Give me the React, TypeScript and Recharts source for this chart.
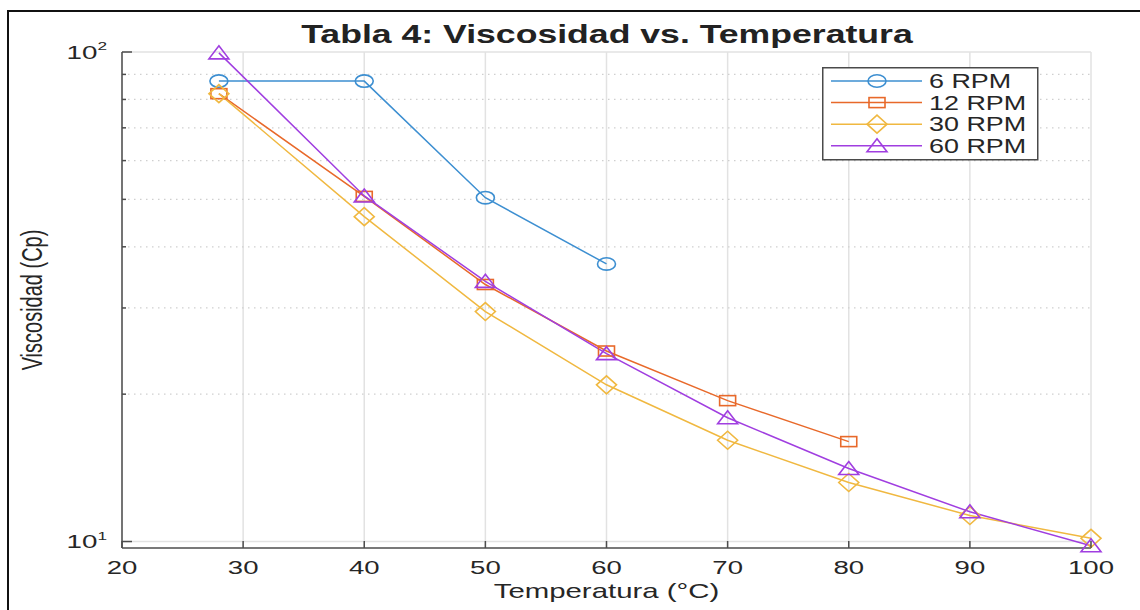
import React from 'react';
import {
  LineChart,
  Line,
  XAxis,
  YAxis,
  CartesianGrid,
  ReferenceLine,
  Legend,
} from 'recharts';

// Temperatures (°C) at which viscosity was measured
const temperatures = [28, 40, 50, 60, 70, 80, 90, 100];

// Viscosity (cP) for each spindle speed; null = not measured
const rpm6 = [87.2, 87.2, 50.4, 36.9, null, null, null, null];
const rpm12 = [82.2, 50.7, 33.5, 24.5, 19.4, 16.0, null, null];
const rpm30 = [82.2, 46.1, 29.5, 20.9, 16.1, 13.2, 11.3, 10.15];
const rpm60 = [99.6, 50.8, 34.0, 24.2, 17.9, 14.1, 11.5, 9.8];

const seriesNames = ['6 RPM', '12 RPM', '30 RPM', '60 RPM'];
const seriesKeys = ['rpm6', 'rpm12', 'rpm30', 'rpm60'];
const seriesColors = ['#3d8fd1', '#e8692a', '#f0b840', '#a03ee0'];
const seriesMarkers = ['circle', 'square', 'diamond', 'triangle'];

const xTicks = [20, 30, 40, 50, 60, 70, 80, 90, 100];
const yMajor = [10, 100];
const yMinor = [20, 30, 40, 50, 60, 70, 80, 90];
const yTicks = [10, 20, 30, 40, 50, 60, 70, 80, 90, 100];

const data = temperatures.map((t, i) => ({
  t,
  rpm6: rpm6[i],
  rpm12: rpm12[i],
  rpm30: rpm30[i],
  rpm60: rpm60[i],
}));

const FONT = "'Liberation Sans', Arial, Helvetica, sans-serif";
const TEXT = '#262626';
const STRETCH = 1.45;

function Marker({ kind, cx, cy, color }: { kind: string; cx: number; cy: number; color: string }) {
  const common = { fill: 'none', stroke: color, strokeWidth: 1.6 };
  switch (kind) {
    case 'circle':
      return <ellipse cx={cx} cy={cy} rx={9} ry={6.2} {...common} />;
    case 'square':
      return <rect x={cx - 8} y={cy - 5} width={16} height={10} {...common} />;
    case 'diamond':
      return (
        <polygon
          points={`${cx},${cy - 9} ${cx + 10},${cy} ${cx},${cy + 9} ${cx - 10},${cy}`}
          {...common}
        />
      );
    default:
      return (
        <polygon
          points={`${cx},${cy - 7} ${cx + 10},${cy + 6} ${cx - 10},${cy + 6}`}
          {...common}
        />
      );
  }
}

const makeDot = (i: number) => (p: any) => {
  const key = `${seriesKeys[i]}-${p.index}`;
  if (p.cx == null || p.cy == null || p.value == null) return <g key={key} />;
  return (
    <g key={key}>
      <Marker kind={seriesMarkers[i]} cx={p.cx} cy={p.cy} color={seriesColors[i]} />
    </g>
  );
};

const YTick = (props: any) => {
  const { x, y, payload } = props;
  const v = payload.value;
  const major = yMajor.includes(v);
  return (
    <g>
      <line x1={x} x2={x + (major ? 10 : 4)} y1={y} y2={y} stroke="#4d4d4d" strokeWidth={1.5} />
      {major && (
        <g transform={`translate(${x - 15}, ${y + 6.5}) scale(${STRETCH + 0.05}, 1)`}>
          <text textAnchor="end" fontFamily={FONT} fontSize={18.5} fill={TEXT}>
            10
            <tspan fontSize={11.5} dy={-8.5}>
              {Math.round(Math.log10(v))}
            </tspan>
          </text>
        </g>
      )}
    </g>
  );
};

const XTick = (props: any) => {
  const { x, y, payload } = props;
  return (
    <g>
      <line x1={x} x2={x} y1={y} y2={y - 7} stroke="#4d4d4d" strokeWidth={1.5} />
      <g transform={`translate(${x}, ${y + 26.3}) scale(${STRETCH}, 1)`}>
        <text textAnchor="middle" fontFamily={FONT} fontSize={19} fill={TEXT}>
          {payload.value}
        </text>
      </g>
    </g>
  );
};

const XLabel = (props: any) => {
  const vb = props.viewBox;
  const cx = vb.x + vb.width / 2;
  return (
    <g transform={`translate(${cx}, ${vb.y + 50}) scale(1.4, 1)`}>
      <text textAnchor="middle" fontFamily={FONT} fontSize={21} fill={TEXT}>
        Temperatura (°C)
      </text>
    </g>
  );
};

const YLabel = (props: any) => {
  const vb = props.viewBox;
  const cy = vb.y + vb.height / 2;
  return (
    <g transform={`translate(${vb.x + 20}, ${cy}) scale(1.5, 1) rotate(-90)`}>
      <text textAnchor="middle" fontFamily={FONT} fontSize={20} fill={TEXT}>
        Viscosidad (Cp)
      </text>
    </g>
  );
};

const renderLegend = () => (
  <svg width={218} height={95} style={{ display: 'block', overflow: 'visible' }}>
    <rect x={0.75} y={0.75} width={215} height={92} fill="#fff" stroke="#4a4a4a" strokeWidth={1.5} />
    {seriesNames.map((name, i) => {
      const y = 14 + i * 21.6;
      return (
        <g key={name}>
          <line x1={9} x2={100} y1={y} y2={y} stroke={seriesColors[i]} strokeWidth={1.5} />
          <Marker kind={seriesMarkers[i]} cx={55} cy={y} color={seriesColors[i]} />
          <g transform={`translate(107, ${y + 7}) scale(1.38, 1)`}>
            <text fontFamily={FONT} fontSize={19.5} fill={TEXT}>
              {name}
            </text>
          </g>
        </g>
      );
    })}
  </svg>
);

export default function App() {
  return (
    <div
      style={{
        position: 'fixed',
        left: 0,
        top: 0,
        width: 1140,
        height: 610,
        background: '#fff',
        overflow: 'hidden',
      }}
    >
      <LineChart
        width={1140}
        height={610}
        data={data}
        margin={{ top: 52, right: 49, bottom: 2, left: 22 }}
      >
        <CartesianGrid horizontal={false} vertical stroke="#e2e2e2" strokeWidth={1.5} />
        {yMinor.map((v) => (
          <ReferenceLine key={v} y={v} stroke="#cfcfcf" strokeWidth={1.2} strokeDasharray="1.5 4.5" />
        ))}
        {yMajor.map((v) => (
          <ReferenceLine key={v} y={v} stroke="#e2e2e2" strokeWidth={1.5} />
        ))}
        <XAxis
          dataKey="t"
          type="number"
          domain={[20, 100]}
          ticks={xTicks}
          interval={0}
          height={60}
          tickSize={0}
          tickMargin={0}
          tick={<XTick />}
          axisLine={{ stroke: '#4d4d4d', strokeWidth: 1.5 }}
          label={<XLabel />}
        />
        <YAxis
          type="number"
          scale="log"
          domain={[9.7, 100]}
          ticks={yTicks}
          interval={0}
          width={100}
          tickSize={0}
          tickMargin={0}
          tick={<YTick />}
          axisLine={{ stroke: '#4d4d4d', strokeWidth: 1.5 }}
          label={<YLabel />}
        />
        <Legend
          layout="horizontal"
          verticalAlign="middle"
          align="center"
          content={renderLegend}
          wrapperStyle={{ left: 822, top: 67, width: 218, height: 95 }}
        />
        {seriesKeys.map((k, i) => (
          <Line
            key={k}
            dataKey={k}
            name={seriesNames[i]}
            stroke={seriesColors[i]}
            strokeWidth={1.5}
            dot={makeDot(i)}
            activeDot={false}
            connectNulls={false}
            isAnimationActive={false}
          />
        ))}
      </LineChart>
      <svg
        width={1140}
        height={610}
        style={{ position: 'absolute', left: 0, top: 0, pointerEvents: 'none' }}
      >
        <line x1={8} y1={11} x2={1140} y2={11} stroke="#111" strokeWidth={2} />
        <line x1={8} y1={10} x2={8} y2={610} stroke="#111" strokeWidth={2} />
        <g transform="translate(607, 43) scale(1.37, 1)">
          <text textAnchor="middle" fontFamily={FONT} fontWeight="bold" fontSize={26} fill="#222">
            Tabla 4: Viscosidad vs. Temperatura
          </text>
        </g>
      </svg>
    </div>
  );
}
